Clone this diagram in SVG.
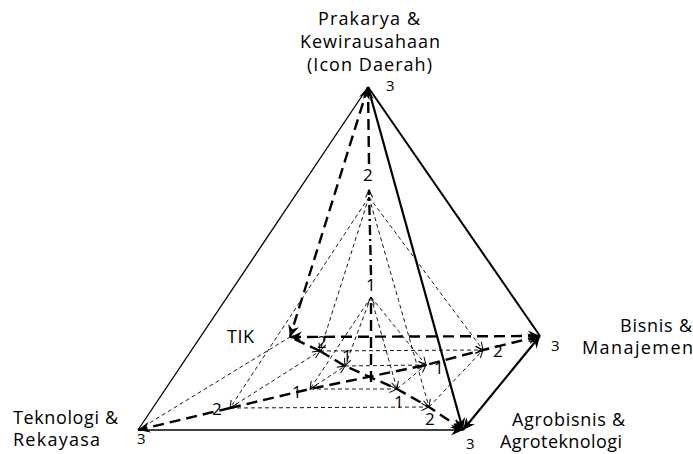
<svg xmlns="http://www.w3.org/2000/svg" width="693" height="454" viewBox="0 0 693 454">
<style>
text { font-family: "Open Sans", "Liberation Sans", sans-serif; fill: #000; }
.lbl { font-size: 18px; }
.n3 { font-size: 15px; }
.lv { font-size: 17px; }
.thin { stroke: #000; stroke-width: 1.3; fill: none; }
.solid { stroke: #000; stroke-width: 2.2; fill: none; }
.td { stroke: #000; stroke-width: 0.9; fill: none; stroke-dasharray: 4 3; }
.kd { stroke: #000; stroke-width: 2.4; fill: none; stroke-dasharray: 11 6; }
.dd { stroke: #000; stroke-width: 2.4; fill: none; stroke-dasharray: 10 4 2 4; }
</style>
<defs>
<marker id="ah" markerUnits="userSpaceOnUse" markerWidth="14" markerHeight="12" refX="12" refY="6" orient="auto-start-reverse">
<path d="M0,0.5 L12,6 L0,11.5 L4,6 Z" fill="#000"/>
</marker>
<marker id="sm" markerUnits="userSpaceOnUse" markerWidth="9" markerHeight="8" refX="8" refY="4" orient="auto-start-reverse">
<path d="M0.5,0.5 L8,4 L0.5,7.5" fill="none" stroke="#000" stroke-width="1"/>
</marker>
</defs>

<g id="connectors">
<g id="level1">
<line class="td" x1="371" y1="297" x2="310" y2="389" marker-end="url(#sm)"/>
<line class="td" x1="371" y1="297" x2="345" y2="366" marker-end="url(#sm)"/>
<line class="td" x1="371" y1="297" x2="397" y2="389" marker-end="url(#sm)"/>
<line class="td" x1="371" y1="297" x2="426" y2="365" marker-end="url(#sm)"/>
<line class="td" x1="310" y1="389" x2="397" y2="389" marker-end="url(#sm)"/>
<line class="td" x1="345" y1="366" x2="426" y2="365" marker-end="url(#sm)"/>
<line class="td" x1="310" y1="389" x2="345" y2="366" marker-end="url(#sm)"/>
<line class="td" x1="397" y1="389" x2="426" y2="365" marker-end="url(#sm)"/>
</g>
<g id="level2">
<line class="td" x1="369" y1="197" x2="230" y2="408" marker-end="url(#sm)"/>
<line class="td" x1="369" y1="197" x2="320" y2="351" marker-end="url(#sm)"/>
<line class="td" x1="369" y1="197" x2="429" y2="407" marker-end="url(#sm)"/>
<line class="td" x1="369" y1="197" x2="483" y2="350" marker-end="url(#sm)"/>
<line class="td" x1="230" y1="408" x2="429" y2="407" marker-end="url(#sm)"/>
<line class="td" x1="320" y1="351" x2="483" y2="350" marker-end="url(#sm)"/>
<line class="td" x1="230" y1="408" x2="320" y2="351" marker-end="url(#sm)"/>
<line class="td" x1="429" y1="407" x2="483" y2="350" marker-end="url(#sm)"/>
</g>
<g id="level3">
<line class="td" x1="138" y1="430" x2="290" y2="337"/>
<line class="thin" x1="368" y1="87" x2="138" y2="430"/>
<line class="thin" x1="138" y1="430" x2="463" y2="430" style="stroke-width:1.5" marker-end="url(#ah)"/>
<line class="solid" x1="368" y1="87" x2="540" y2="336" style="stroke-width:2"/>
<line class="solid" x1="368" y1="87" x2="463" y2="430" marker-end="url(#ah)"/>
<line class="solid" x1="540" y1="336" x2="463" y2="430" marker-start="url(#ah)" marker-end="url(#ah)"/>
<line class="kd" x1="368" y1="87" x2="290" y2="337" marker-start="url(#ah)" marker-end="url(#ah)"/>
<line class="kd" x1="290" y1="337" x2="540" y2="336" marker-start="url(#ah)" marker-end="url(#ah)"/>
</g>
<g id="axes">
<polyline class="kd" points="230,408 310,389 426,365 483,350 540,336" marker-end="url(#ah)"/>
<line class="kd" x1="230" y1="408" x2="138" y2="430" marker-end="url(#ah)"/>
<polyline class="kd" points="320,351 345,366 397,389 429,407 463,430" marker-end="url(#ah)"/>
<line class="kd" x1="320" y1="351" x2="290" y2="337"/>
<line class="kd" x1="369" y1="164" x2="368" y2="87" marker-end="url(#ah)"/>
<line class="dd" x1="371" y1="275" x2="369" y2="190" marker-end="url(#sm)"/>
<line class="kd" x1="371" y1="382" x2="371" y2="297" marker-end="url(#sm)"/>
</g>
</g>

<g id="node-prakarya">
<text class="lbl" x="318" y="25" textLength="102" lengthAdjust="spacing">Prakarya &amp;</text>
<text class="lbl" x="300" y="48" textLength="140" lengthAdjust="spacing">Kewirausahaan</text>
<text class="lbl" x="307" y="71" textLength="125" lengthAdjust="spacing">(Icon Daerah)</text>
<text class="n3" x="386" y="91">3</text>
</g>
<g id="node-tik">
<text class="lbl" x="227" y="343" textLength="27" lengthAdjust="spacing">TIK</text>
</g>
<g id="node-teknologi">
<text class="lbl" x="13" y="424" textLength="105" lengthAdjust="spacing">Teknologi &amp;</text>
<text class="lbl" x="13" y="446" textLength="87" lengthAdjust="spacing">Rekayasa</text>
<text class="n3" x="137" y="444">3</text>
</g>
<g id="node-bisnis">
<text class="lbl" x="620" y="332" textLength="72" lengthAdjust="spacing">Bisnis &amp;</text>
<text class="lbl" x="582" y="354" textLength="111" lengthAdjust="spacing">Manajemen</text>
<text class="n3" x="551" y="351">3</text>
</g>
<g id="node-agrobisnis">
<text class="lbl" x="512" y="426" textLength="113" lengthAdjust="spacing">Agrobisnis &amp;</text>
<text class="lbl" x="500" y="448" textLength="122" lengthAdjust="spacing">Agroteknologi</text>
<text class="n3" x="466" y="449">3</text>
</g>
<g id="level-labels">
<text class="lv" x="363" y="181">2</text>
<text class="lv" x="366" y="291">1</text>
<text class="lv" x="212" y="415">2</text>
<text class="lv" x="292" y="398">1</text>
<text class="lv" x="317" y="348">2</text>
<text class="lv" x="342" y="362">1</text>
<text class="lv" x="493" y="357">2</text>
<text class="lv" x="434" y="374">1</text>
<text class="lv" x="394" y="408">1</text>
<text class="lv" x="425" y="425">2</text>
</g>
</svg>
